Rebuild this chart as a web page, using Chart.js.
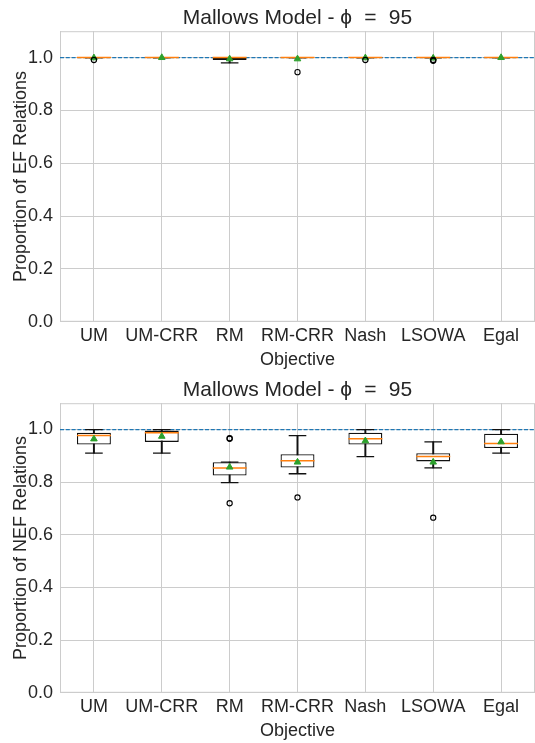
<!DOCTYPE html>
<html>
<head>
<meta charset="utf-8">
<script src="https://cdn.jsdelivr.net/npm/chart.js@4.4.1/dist/chart.umd.min.js"></script>
<style>
html, body { margin: 0; padding: 0; background: #fff; overflow: hidden; }
canvas { display: block; }
</style>
</head>
<body>
<canvas id="efChart" width="535" height="372"></canvas>
<canvas id="nefChart" width="535" height="371"></canvas>
<script>
// Box plot values, one entry per objective

const objectives = ['UM', 'UM-CRR', 'RM', 'RM-CRR', 'Nash', 'LSOWA', 'Egal'];
const yTicks = [0.0, 0.2, 0.4, 0.6, 0.8, 1.0];
const refValue = 1.0;

// EF relations (top)
const efMin  = [1.000, 1.000, 0.980, 1.000, 1.000, 1.000, 1.000];
const efQ1   = [1.000, 1.000, 0.991, 1.000, 1.000, 1.000, 1.000];
const efMed  = [1.000, 1.000, 1.000, 1.000, 1.000, 1.000, 1.000];
const efQ3   = [1.000, 1.000, 1.000, 1.000, 1.000, 1.000, 1.000];
const efMax  = [1.000, 1.000, 1.000, 1.000, 1.000, 1.000, 1.000];
const efMean = [0.999, 1.000, 0.995, 0.995, 0.999, 0.998, 1.000];
const efOutliers = [['UM', 0.991], ['RM-CRR', 0.945], ['Nash', 0.991], ['LSOWA', 0.991], ['LSOWA', 0.988]];

// NEF relations (bottom)
const nefMin  = [0.910, 0.910, 0.798, 0.832, 0.897, 0.854, 0.910];
const nefQ1   = [0.943, 0.953, 0.825, 0.856, 0.943, 0.879, 0.930];
const nefMed  = [0.977, 0.988, 0.854, 0.881, 0.965, 0.898, 0.947];
const nefQ3   = [0.988, 0.996, 0.876, 0.906, 0.988, 0.910, 0.984];
const nefMax  = [1.000, 1.000, 0.876, 0.977, 1.000, 0.953, 1.000];
const nefMean = [0.964, 0.974, 0.857, 0.876, 0.957, 0.876, 0.953];
const nefOutliers = [['RM', 0.965], ['RM', 0.967], ['RM', 0.720], ['RM-CRR', 0.742], ['LSOWA', 0.665]];

Chart.defaults.font.family = "'Liberation Sans', Arial, Helvetica, sans-serif";
Chart.defaults.color = '#262626';

const gridColor = '#cccccc';

// dashed reference line + light frame round the plot area
const refLinePlugin = {
    id: 'refLine',
    beforeDatasetsDraw(chart) {
        const {ctx, chartArea, scales} = chart;
        ctx.save();
        ctx.strokeStyle = gridColor;
        ctx.lineWidth = 1;
        ctx.strokeRect(chartArea.left + 0.5, chartArea.top + 0.5, chartArea.width - 1, chartArea.height - 1);
        const y = scales.y.getPixelForValue(refValue);
        ctx.strokeStyle = '#1f77b4';
        ctx.lineWidth = 1.3;
        ctx.setLineDash([4, 1.8]);
        ctx.beginPath();
        ctx.moveTo(chartArea.left, y);
        ctx.lineTo(chartArea.right, y);
        ctx.stroke();
        ctx.restore();
    }
};

function makeBoxChart(id, yTitle, mins, q1s, meds, q3s, maxs, means, outliers) {
    const ctx = document.getElementById(id);
    return new Chart(ctx, {
        type: 'bar',
        data: {
            labels: objectives,
            datasets: [
                {   // outliers
                    type: 'line', showLine: false,
                    data: outliers.map(o => ({x: o[0], y: o[1]})),
                    pointStyle: 'circle', pointRadius: 2.6,
                    pointBackgroundColor: 'rgba(0,0,0,0)', pointBorderColor: '#000', pointBorderWidth: 1.1
                },
                {   // means
                    type: 'line', showLine: false,
                    data: means,
                    pointStyle: 'triangle', pointRadius: 3.8,
                    pointBackgroundColor: '#2ca02c', pointBorderColor: '#2ca02c', pointBorderWidth: 1
                },
                {   // medians
                    type: 'line', showLine: false,
                    data: meds,
                    pointStyle: 'line', pointRadius: 17,
                    pointBorderColor: '#ff7f0e', pointBorderWidth: 1.5
                },
                {   // whisker caps
                    type: 'line', showLine: false,
                    data: mins.concat(maxs).map((v, i) => ({x: objectives[i % objectives.length], y: v})),
                    pointStyle: 'line', pointRadius: 8.8,
                    pointBorderColor: '#111', pointBorderWidth: 1.3
                },
                {   // boxes
                    data: q1s.map((v, i) => [v, q3s[i]]),
                    backgroundColor: '#ffffff',
                    borderColor: '#111',
                    borderWidth: 1.3,
                    borderSkipped: false,
                    grouped: false,
                    barPercentage: 0.5,
                    categoryPercentage: 1
                },
                {   // whiskers
                    data: mins.map((v, i) => [v, maxs[i]]),
                    backgroundColor: '#111',
                    borderWidth: 0,
                    grouped: false,
                    barThickness: 1.3
                }
            ]
        },
        options: {
            responsive: false,
            animation: false,
            devicePixelRatio: 1,
            layout: { padding: 0, autoPadding: false },
            scales: {
                x: {
                    grid: { color: gridColor, offset: false, drawTicks: false },
                    border: { color: gridColor },
                    ticks: { font: { size: 18 }, padding: 3, maxRotation: 0, autoSkip: false },
                    title: { display: true, text: 'Objective', font: { size: 18 }, padding: { top: 0, bottom: 1 } }
                },
                y: {
                    min: 0,
                    max: 1.1,
                    afterBuildTicks: s => { s.ticks = yTicks.map(v => ({value: v})); },
                    afterFit: s => { s.width = 60; },
                    grid: { color: gridColor, drawTicks: false },
                    border: { color: gridColor },
                    ticks: { font: { size: 18 }, padding: 7, callback: v => v.toFixed(1) },
                    title: { display: true, text: yTitle, font: { size: 18 }, padding: { top: 10, bottom: 0 } }
                }
            },
            plugins: {
                legend: { display: false },
                tooltip: { enabled: false },
                title: {
                    display: true,
                    fullSize: false,          // centre over the plot area
                    text: 'Mallows Model - \u03D5\u2002\u200A=\u2002\u200A95',
                    color: '#262626',
                    font: { size: 21, weight: 'normal' },
                    padding: { top: 6, bottom: 0 }
                }
            }
        },
        plugins: [refLinePlugin]
    });
}

makeBoxChart('efChart', 'Proportion of EF Relations', efMin, efQ1, efMed, efQ3, efMax, efMean, efOutliers);
makeBoxChart('nefChart', 'Proportion of NEF Relations', nefMin, nefQ1, nefMed, nefQ3, nefMax, nefMean, nefOutliers);
</script>
</body>
</html>
